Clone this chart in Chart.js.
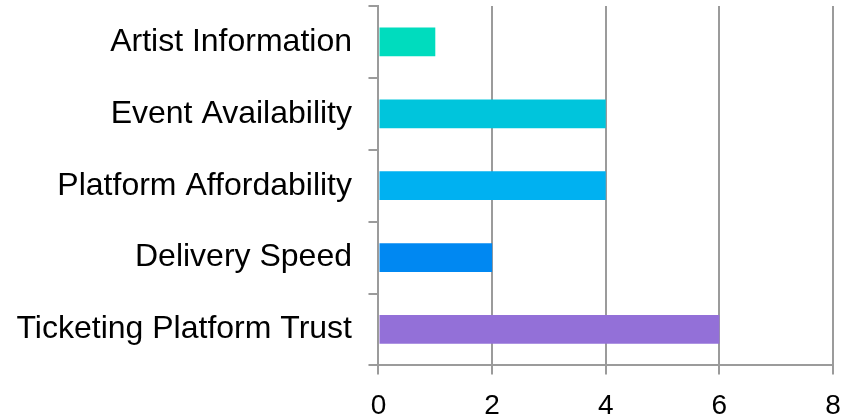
<!DOCTYPE html>
<html>
<head>
<meta charset="utf-8">
<script src="https://cdn.jsdelivr.net/npm/chart.js@4.4.1/dist/chart.umd.min.js"></script>
<style>
  html, body { margin: 0; padding: 0; background: #ffffff; }
  #wrap { width: 843px; height: 419px; }
</style>
</head>
<body>
<div id="wrap"><canvas id="factorChart"></canvas></div>
<script>
const categories = ['Artist Information', 'Event Availability', 'Platform Affordability', 'Delivery Speed', 'Ticketing Platform Trust'];
const counts = [1, 4, 4, 2, 6];
const barColors = ['#00dcbe', '#00c5dc', '#00b1f1', '#0088f2', '#9370d8'];
const xTicks = [0, 2, 4, 6, 8];

const gridGray = '#9b9b9b';
const labelFont = 'Liberation Sans, Arial, sans-serif';

const ctx = document.getElementById('factorChart');
new Chart(ctx, {
    type: 'bar',
    data: {
        labels: categories,
        datasets: [{
            data: counts,
            backgroundColor: barColors,
            borderWidth: 0,
            barPercentage: 0.4,
            categoryPercentage: 1.0
        }]
    },
    options: {
        indexAxis: 'y',
        responsive: true,
        maintainAspectRatio: false,
        animation: false,
        layout: {
            // x axis box reserves more room than the numbers need, so let it hang off the bottom
            padding: { top: 6, right: 0, bottom: -19, left: 0 }
        },
        scales: {
            x: {
                min: xTicks[0],
                max: xTicks[xTicks.length - 1],
                afterBuildTicks: axis => {
                    axis.ticks = xTicks.map(v => ({ value: v }));
                },
                // keep the last label from pulling the plot in too far
                afterFit: axis => {
                    axis.paddingRight = 10;
                },
                grid: {
                    color: gridGray,
                    lineWidth: 2,
                    tickLength: 9,
                    drawTicks: true
                },
                border: { display: true, color: gridGray, width: 2 },
                ticks: {
                    color: '#000000',
                    padding: 15,
                    font: { family: labelFont, size: 28 }
                }
            },
            y: {
                offset: true,
                afterFit: axis => {
                    axis.paddingTop = 0;
                    axis.paddingBottom = 0;
                },
                grid: {
                    offset: true,
                    drawOnChartArea: false,
                    color: gridGray,
                    lineWidth: 2,
                    tickLength: 10
                },
                border: { display: true, color: gridGray, width: 2 },
                ticks: {
                    color: '#000000',
                    padding: 16.5,
                    font: { family: labelFont, size: 32 }
                }
            }
        },
        plugins: {
            legend: { display: false },
            tooltip: { enabled: false }
        }
    }
});
</script>
</body>
</html>
